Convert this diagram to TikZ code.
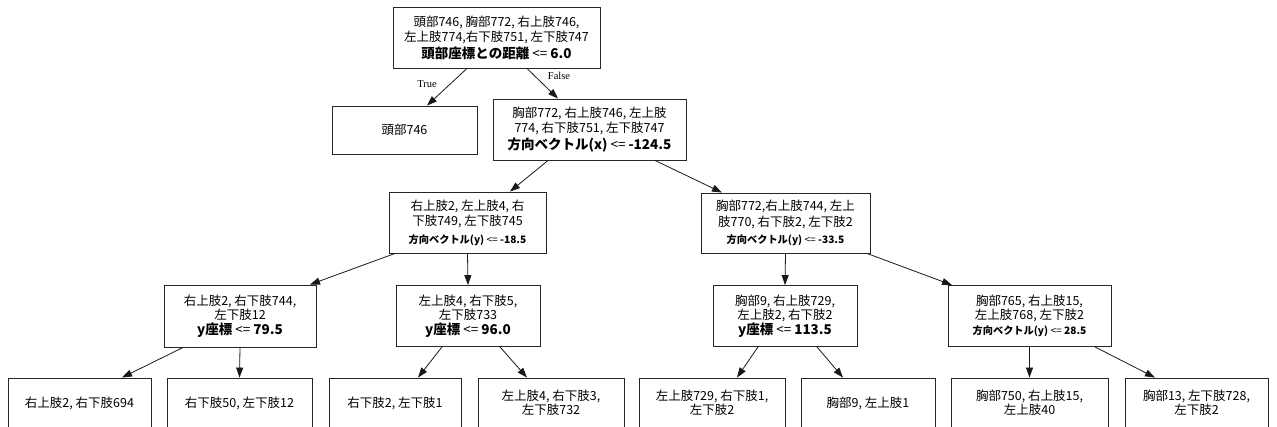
\documentclass[tikz,border=0pt]{standalone}
\usepackage{fontspec}
\setmainfont{Noto Sans CJK JP}
\newfontfamily\labfont{Liberation Serif}
\usetikzlibrary{arrows.meta}
\tikzset{
  box/.style={draw=black!85, line width=0.9pt, fill=white, inner sep=0pt, align=center,
    font=\fontsize{12.5}{15.5}\selectfont},
  arr/.style={draw=black!90, line width=0.8pt, -{Triangle[length=10pt,width=7pt]}},
  lab/.style={font=\labfont\fontsize{10.5}{12}\selectfont, inner sep=0pt},
}
\newcommand{\mybig}[2]{{\fontsize{13.5}{16}\selectfont\textbf{#1} <= \textbf{#2}}}
\newcommand{\mysmall}[2]{{\fontsize{10.2}{14}\selectfont\textbf{#1} <= \textbf{#2}}}
\begin{document}
\begin{tikzpicture}[x=1pt,y=-1pt]
\clip (0,0) rectangle (1277,426);
\fill[white] (0,0) rectangle (1277,426);
% level 0
\node[box, minimum width=207, minimum height=61] (root) at (496.5,37.5)
  {頭部746, 胸部772, 右上肢746,\\左上肢774,右下肢751, 左下肢747\\[1pt]\mybig{頭部座標との距離}{6.0}};
% level 1
\node[box, minimum width=145, minimum height=48] (l0) at (404.5,130) {頭部746};
\node[box, minimum width=193, minimum height=61] (n2) at (589.5,129.5)
  {胸部772, 右上肢746, 左上肢\\774, 右下肢751, 左下肢747\\[1pt]\mybig{方向ベクトル(x)}{-124.5}};
% level 2
\node[box, minimum width=157, minimum height=61] (n3) at (467.5,222.5)
  {右上肢2, 左上肢4, 右\\下肢749, 左下肢745\\[2pt]\mysmall{方向ベクトル(y)}{-18.5}};
\node[box, minimum width=169, minimum height=60] (n4) at (785.5,223)
  {胸部772,右上肢744, 左上\\肢770, 右下肢2, 左下肢2\\[2pt]\mysmall{方向ベクトル(y)}{-33.5}};
% level 3
\node[box, minimum width=152, minimum height=62] (n5) at (240,316)
  {右上肢2, 右下肢744,\\[-1.5pt]左下肢12\\[-1pt]\mybig{y座標}{79.5}};
\node[box, minimum width=144, minimum height=61] (n6) at (468,316)
  {左上肢4, 右下肢5,\\[-1.5pt]左下肢733\\[-1pt]\mybig{y座標}{96.0}};
\node[box, minimum width=144, minimum height=61] (n7) at (785,316)
  {胸部9, 右上肢729,\\[-1.5pt]左上肢2, 右下肢2\\[-1pt]\mybig{y座標}{113.5}};
\node[box, minimum width=163, minimum height=61] (n8) at (1029.5,316)
  {胸部765, 右上肢15,\\[-1.5pt]左上肢768, 左下肢2\\[0pt]\mysmall{方向ベクトル(y)}{28.5}};
% leaves
\node[box, minimum width=143, minimum height=50] (L1) at (79.5,403) {右上肢2, 右下肢694};
\node[box, minimum width=145, minimum height=50] (L2) at (239.5,403) {右下肢50, 左下肢12};
\node[box, minimum width=132, minimum height=50] (L3) at (395,403) {右下肢2, 左下肢1};
\node[box, minimum width=146, minimum height=50] (L4) at (551,403) {左上肢4, 右下肢3,\\[-1.5pt]左下肢732};
\node[box, minimum width=146, minimum height=50] (L5) at (712,403) {左上肢729, 右下肢1,\\[-1.5pt]左下肢2};
\node[box, minimum width=134, minimum height=50] (L6) at (868,403) {胸部9, 左上肢1};
\node[box, minimum width=157, minimum height=50] (L7) at (1029.5,403) {胸部750, 右上肢15,\\[-1.5pt]左上肢40};
\node[box, minimum width=143, minimum height=50] (L8) at (1196.5,403) {胸部13, 左下肢728,\\[-1.5pt]左下肢2};
% edges
\draw[arr] ([xshift=-29.5]root.south) -- ([xshift=22.5]l0.north);
\draw[arr] ([xshift=30.5]root.south) -- ([xshift=-31.5]n2.north);
\node[lab] (tl) at (427,84) {True};
\node[lab] (fl) at (559,76) {False};
\draw[arr] ([xshift=-41.5]n2.south) -- ([xshift=42.5]n3.north);
\draw[arr] ([xshift=65.5]n2.south) -- ([xshift=-63.5]n4.north);
\draw[arr] ([xshift=-72.5]n3.south) -- ([xshift=70]n5.north);
\draw[arr] (n3.south) -- (n6.north);
\draw[arr] (n4.south) -- (n7.north);
\draw[arr] ([xshift=81.5]n4.south) -- ([xshift=-77.5]n8.north);
\draw[arr] ([xshift=-57]n5.south) -- ([xshift=42.5]L1.north);
\draw[arr] (n5.south) -- (L2.north);
\draw[arr] ([xshift=-26]n6.south) -- ([xshift=23]L3.north);
\draw[arr] ([xshift=32]n6.south) -- ([xshift=-24]L4.north);
\draw[arr] ([xshift=-27]n7.south) -- ([xshift=25]L5.north);
\draw[arr] ([xshift=32]n7.south) -- ([xshift=-25]L6.north);
\draw[arr] (n8.south) -- (L7.north);
\draw[arr] ([xshift=65.5]n8.south) -- ([xshift=-41.5]L8.north);
\end{tikzpicture}
\end{document}
